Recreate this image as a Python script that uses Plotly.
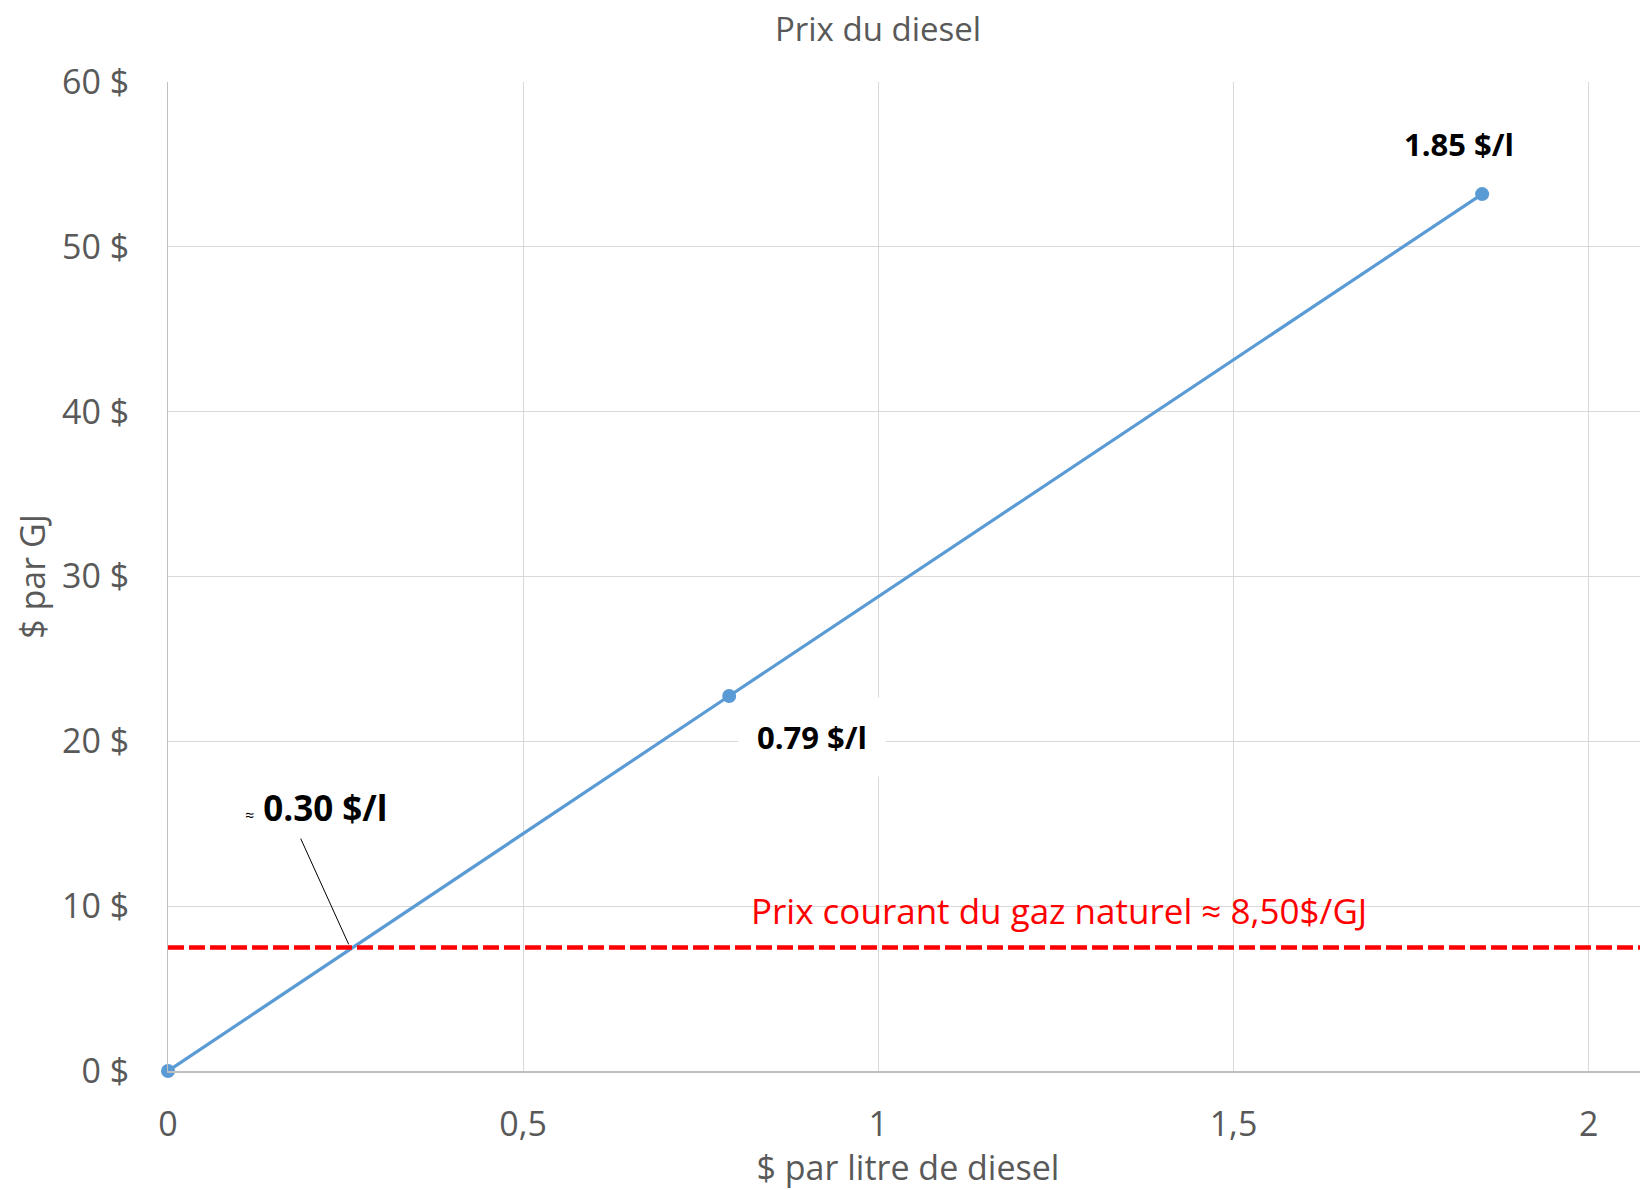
import plotly.graph_objects as go

# Data
price_per_litre = [0, 0.79, 1.85]
price_per_gj = [0, 22.75, 53.2]
gas_price_level = 7.5
x_ticks = [0, 0.5, 1, 1.5, 2]
x_tick_labels = ["0", "0,5", "1", "1,5", "2"]
y_ticks = [0, 10, 20, 30, 40, 50, 60]
y_tick_labels = ["0 $", "10 $", "20 $", "30 $", "40 $", "50 $", "60 $"]
x_max = 2.0835

FONT = "Open Sans"
GREY = "#595959"
BLUE = "#5B9BD5"

fig = go.Figure()

fig.add_trace(go.Scatter(
    x=price_per_litre, y=price_per_gj, mode="lines+markers",
    line=dict(color=BLUE, width=3.2),
    marker=dict(color=BLUE, size=14),
    cliponaxis=False,
    showlegend=False, hoverinfo="x+y",
))

fig.add_trace(go.Scatter(
    x=[0, x_max], y=[gas_price_level, gas_price_level], mode="lines",
    line=dict(color="#FF0000", width=4.5, dash="16px,5px"),
    showlegend=False, hoverinfo="skip",
))

# leader line for the crossing point
fig.add_shape(type="line", xref="x", yref="y",
              x0=0.1868, y0=14.1, x1=0.2544, y1=7.68,
              line=dict(color="#000000", width=1))

fig.add_annotation(x=1.817, y=56.26, text="<b>1.85 $/l</b>", showarrow=False,
                   font=dict(family=FONT, size=31, color="#000000"))
fig.add_annotation(x=0.907, y=20.27, text="<b>0.79 $/l</b>", showarrow=False,
                   bgcolor="#FFFFFF", borderpad=18,
                   font=dict(family=FONT, size=31, color="#000000"))
fig.add_annotation(x=0.209, y=16.0,
                   text="<span style='font-size:16px'>≈</span> <b>0.30 $/l</b>",
                   showarrow=False,
                   font=dict(family=FONT, size=35, color="#000000"))
fig.add_annotation(x=1.255, y=9.76, text="Prix courant du gaz naturel ≈ 8,50$/GJ",
                   showarrow=False,
                   font=dict(family=FONT, size=35, color="#FF0000"))

# the page body has an 8px margin: size and margins compensate for it
fig.update_layout(
    width=1640, height=1182,
    margin=dict(l=160, r=0, t=74, b=119),
    paper_bgcolor="#FFFFFF", plot_bgcolor="#FFFFFF",
    font=dict(family=FONT, color=GREY, size=34),
    title=dict(text="Prix du diesel", x=870 / 1640, xanchor="center", y=1 - 10 / 1182,
               yanchor="top", pad=dict(t=0, b=0),
               font=dict(family=FONT, size=33, color=GREY)),
)

fig.update_xaxes(
    range=[0, x_max], tickvals=x_ticks, ticktext=x_tick_labels,
    showgrid=True, gridcolor="#D9D9D9", gridwidth=1,
    showline=True, linecolor="#BFBFBF", linewidth=2,
    zeroline=False, ticks="", ticklabelstandoff=22,
    tickfont=dict(family=FONT, size=34, color=GREY),
    title=dict(text="$ par litre de diesel", standoff=13,
               font=dict(family=FONT, size=34, color=GREY)),
)
fig.update_yaxes(
    range=[0, 60], tickvals=y_ticks, ticktext=y_tick_labels,
    showgrid=True, gridcolor="#D9D9D9", gridwidth=1,
    showline=True, linecolor="#BFBFBF", linewidth=1,
    zeroline=False, ticks="", ticklabelstandoff=31,
    tickfont=dict(family=FONT, size=34, color=GREY),
    title=dict(text="$ par GJ", standoff=6,
               font=dict(family=FONT, size=34, color=GREY)),
)

fig.write_html("out.html")
